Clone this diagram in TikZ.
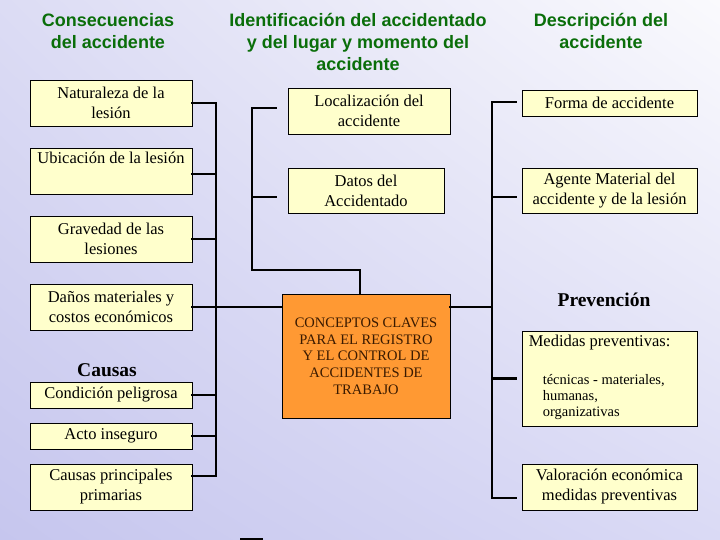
\documentclass[tikz,border=0pt]{standalone}
\usepackage{fontspec}
\setmainfont{Liberation Serif}
\newfontfamily\headfont{Liberation Sans}
\usetikzlibrary{positioning,shadings}
\definecolor{accGreen}{HTML}{0A6E0A}
\definecolor{accYellow}{HTML}{FFFFCC}
\definecolor{accOrange}{HTML}{FF9933}
\definecolor{accBrown}{HTML}{3A1A00}
\definecolor{accBgA}{HTML}{DCDCF4}
\definecolor{accBgB}{HTML}{FAFAFD}
\definecolor{accBgC}{HTML}{C6C6EE}
\definecolor{accBgD}{HTML}{DADAF5}
\tikzset{
  every picture/.style={font=\fontsize{16.5}{20}\selectfont},
  acc box/.style={draw=black, line width=0.9pt, fill=accYellow, align=center,
    inner sep=0pt},
  acc key/.style={draw=black, line width=0.9pt, fill=accOrange, align=center,
    text=accBrown, font=\fontsize{14.5}{16.7}\selectfont},
  acc head/.style={align=center, text=accGreen,
    font=\headfont\bfseries\fontsize{18}{22}\selectfont},
  acc label/.style={font=\bfseries\fontsize{19.5}{22}\selectfont},
  acc link/.style={draw=black, line width=2.4pt, line cap=rect}
}

\begin{document}
\begin{tikzpicture}[x=1pt,y=-1pt]
  \useasboundingbox (0,0) rectangle (720,540);
  \shade[upper left=accBgA, upper right=accBgB, lower left=accBgC, lower right=accBgD]
    (0,0) rectangle (720,540);

  % titles
  \node[acc head] (hCons) at (108,31) {Consecuencias\\del accidente};
  \node[acc head] (hIdent) at (358,42) {Identificación del accidentado\\y del lugar y momento del\\accidente};
  \node[acc head] (hDesc) at (601,31) {Descripción del\\accidente};

  % consecuencias y causas
  \node[acc box, minimum width=162, minimum height=46] (naturaleza) at (111,103) {Naturaleza de la\\lesión};
  \node[acc box, minimum width=162, minimum height=46] (ubicacion) at (111,171) {Ubicación de la lesión\\\strut};
  \node[acc box, minimum width=162, minimum height=46] (gravedad) at (111,239) {Gravedad de las\\lesiones};
  \node[acc box, minimum width=162, minimum height=46] (danos) at (111,307) {Daños materiales y\\costos económicos};
  \node[acc label] (causas) at (107,370) {Causas};
  \node[acc box, minimum width=162, minimum height=26] (condicion) at (111,395) {Condición peligrosa};
  \node[acc box, minimum width=162, minimum height=26] (acto) at (111,436) {Acto inseguro};
  \node[acc box, minimum width=162, minimum height=46] (principales) at (111,487) {Causas principales\\primarias};

  % identificacion
  \node[acc box, minimum width=162, minimum height=46] (localizacion) at (369,111) {Localización del\\accidente};
  \node[acc box, minimum width=156, minimum height=45] (datos) at (366,190.5) {Datos del\\Accidentado};
  \node[acc key, minimum width=168, minimum height=124] (conceptos) at (366,356)
    {CONCEPTOS CLAVES\\PARA EL REGISTRO\\Y EL CONTROL DE\\ACCIDENTES DE\\TRABAJO};

  % descripcion y prevencion
  \node[acc box, minimum width=175, minimum height=26] (forma) at (609.5,103) {Forma de accidente};
  \node[acc box, minimum width=175, minimum height=45] (agente) at (609.5,190.5) {Agente Material del\\accidente y de la lesión};
  \node[acc label] (prevencion) at (604,300) {Prevención};
  \node[acc box, minimum width=175, minimum height=95] (medidas) at (609.5,378.5) {};
  \node[anchor=west, inner sep=0pt] (medTitle) at ([shift={(7,12)}]medidas.north west) {Medidas preventivas:};
  \node[anchor=west, align=left, inner sep=0pt, font=\fontsize{14.5}{16}\selectfont] (medTipos)
    at ([shift={(21,66)}]medidas.north west) {técnicas - materiales,\\humanas,\\organizativas};
  \node[acc box, minimum width=175, minimum height=46] (valoracion) at (609.5,487) {Valoración económica\\medidas preventivas};

  % connectors
  \coordinate (trunkL) at (216,0);
  \coordinate (trunkR) at (492,0);
  \coordinate (midBend) at (252,270);
  \coordinate (ubicOut) at ([yshift=-3]ubicacion.east);
  \coordinate (princOut) at ([yshift=11]principales.east);
  \coordinate (locIn) at ([shift={(-12,-3)}]localizacion.west);
  \coordinate (datosIn) at ([shift={(-12,6.5)}]datos.west);
  \coordinate (formaIn) at ([shift={(-6,-1)}]forma.west);
  \coordinate (agenteIn) at ([shift={(-6,6.5)}]agente.west);
  \coordinate (medidasIn) at ([xshift=-6]medidas.west);
  \coordinate (valIn) at ([shift={(-6,11)}]valoracion.west);

  \draw[acc link] (naturaleza.east) -| (trunkL |- princOut) -- (princOut);
  \foreach \c in {ubicOut,gravedad.east,condicion.east,acto.east}
    \draw[acc link] (\c) -- (\c -| trunkL);
  \draw[acc link] (danos.east) -- (danos.east -| conceptos.west);

  \draw[acc link] (locIn) -| (midBend) -| ([xshift=-6]conceptos.north);
  \draw[acc link] (datosIn) -- (datosIn -| midBend);

  \draw[acc link] (formaIn) -| (trunkR |- valIn) -- (valIn);
  \foreach \c in {agenteIn,medidasIn}
    \draw[acc link] (\c) -- (\c -| trunkR);
  \draw[acc link] (danos.east -| conceptos.east) -- (danos.east -| trunkR);

  \draw[line width=2pt] (240,539) -- (263,539);
\end{tikzpicture}
\end{document}
